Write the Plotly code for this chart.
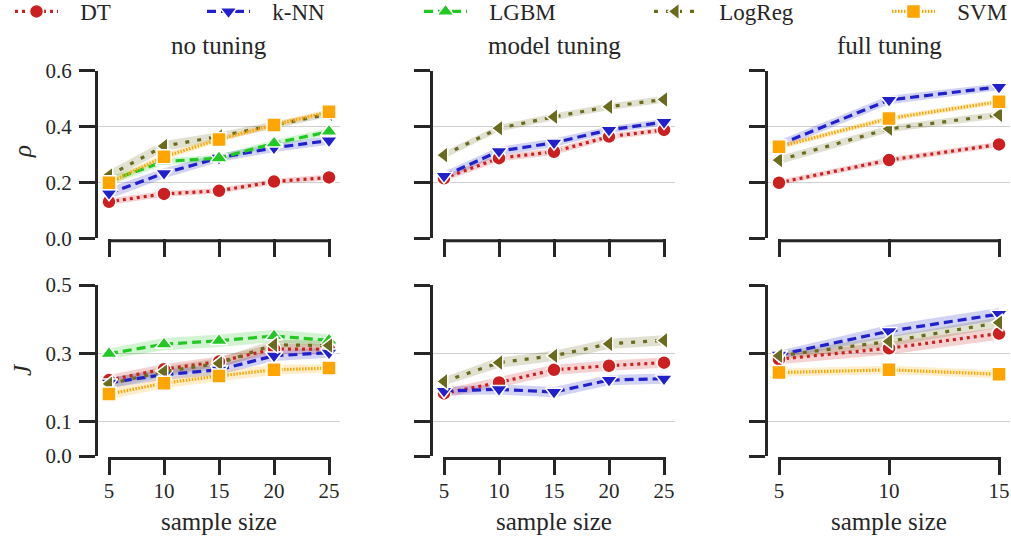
import plotly.graph_objects as go

# ---------------- data ----------------
MODELS = ["DT", "k-NN", "LGBM", "LogReg", "SVM"]
X_SHORT = [5, 10, 15, 20, 25]
X_FULL = [5, 10, 15]
PANEL_TITLES = ["no tuning", "model tuning", "full tuning"]
X_TICKS_SHORT = [5, 10, 15, 20, 25]
X_TICKS_FULL = [5, 10, 15]
RHO_TICKS = [0.0, 0.2, 0.4, 0.6]
J_TICKS = [0.0, 0.1, 0.3, 0.5]

# rho, no tuning
rho_none = {
    "DT": [0.131, 0.159, 0.170, 0.203, 0.218],
    "k-NN": [0.161, 0.233, 0.288, 0.324, 0.350],
    "LGBM": [0.205, 0.275, 0.287, 0.340, 0.382],
    "LogReg": [0.225, 0.330, 0.365, 0.405, 0.445],
    "SVM": [0.199, 0.292, 0.354, 0.406, 0.453],
}
rho_none_err = {
    "DT": [0.012, 0.010, 0.010, 0.010, 0.010],
    "k-NN": [0.020, 0.018, 0.015, 0.015, 0.015],
    "LGBM": [0.015, 0.012, 0.012, 0.012, 0.012],
    "LogReg": [0.018, 0.018, 0.015, 0.012, 0.010],
    "SVM": [0.012, 0.012, 0.010, 0.010, 0.010],
}
# rho, model tuning
rho_model = {
    "DT": [0.215, 0.287, 0.310, 0.364, 0.388],
    "k-NN": [0.223, 0.312, 0.342, 0.388, 0.416],
    "LogReg": [0.298, 0.394, 0.435, 0.471, 0.497],
}
rho_model_err = {
    "DT": [0.012, 0.012, 0.012, 0.010, 0.010],
    "k-NN": [0.015, 0.015, 0.015, 0.012, 0.012],
    "LogReg": [0.012, 0.012, 0.012, 0.012, 0.012],
}
# rho, full tuning
rho_full = {
    "DT": [0.199, 0.280, 0.336],
    "k-NN": [0.335, 0.495, 0.542],
    "LogReg": [0.280, 0.392, 0.442],
    "SVM": [0.328, 0.429, 0.489],
}
rho_full_err = {
    "DT": [0.010, 0.010, 0.010],
    "k-NN": [0.015, 0.015, 0.012],
    "LogReg": [0.015, 0.012, 0.012],
    "SVM": [0.010, 0.010, 0.010],
}
# J, no tuning
j_none = {
    "DT": [0.222, 0.254, 0.276, 0.313, 0.312],
    "k-NN": [0.214, 0.238, 0.252, 0.293, 0.302],
    "LGBM": [0.299, 0.327, 0.337, 0.351, 0.338],
    "LogReg": [0.211, 0.247, 0.271, 0.325, 0.323],
    "SVM": [0.181, 0.213, 0.234, 0.252, 0.257],
}
j_none_err = {
    "DT": [0.015, 0.015, 0.015, 0.015, 0.015],
    "k-NN": [0.015, 0.015, 0.015, 0.015, 0.015],
    "LGBM": [0.015, 0.018, 0.018, 0.018, 0.018],
    "LogReg": [0.015, 0.015, 0.015, 0.015, 0.015],
    "SVM": [0.015, 0.015, 0.015, 0.015, 0.012],
}
# J, model tuning
j_model = {
    "DT": [0.183, 0.215, 0.252, 0.264, 0.273],
    "k-NN": [0.190, 0.195, 0.187, 0.222, 0.226],
    "LogReg": [0.218, 0.273, 0.293, 0.328, 0.338],
}
j_model_err = {
    "DT": [0.012, 0.015, 0.015, 0.015, 0.015],
    "k-NN": [0.012, 0.015, 0.015, 0.015, 0.015],
    "LogReg": [0.012, 0.015, 0.015, 0.015, 0.015],
}
# J, full tuning
j_full = {
    "DT": [0.283, 0.315, 0.358],
    "k-NN": [0.296, 0.365, 0.415],
    "LogReg": [0.293, 0.335, 0.390],
    "SVM": [0.244, 0.252, 0.239],
}
j_full_err = {
    "DT": [0.015, 0.018, 0.018],
    "k-NN": [0.012, 0.018, 0.018],
    "LogReg": [0.012, 0.015, 0.015],
    "SVM": [0.012, 0.012, 0.012],
}

# ---------------- style ----------------
COLORS = {"DT": "#cc2020", "k-NN": "#2020cc", "LGBM": "#22c922",
          "LogReg": "#6b6b1e", "SVM": "#ffa500"}
DASHES = {"DT": "3px,4px", "k-NN": "9px,5px", "LGBM": "9px,5px",
          "LogReg": "4px,8px", "SVM": "1.5px,1.5px"}
SYMBOLS = {"DT": "circle", "k-NN": "triangle-down", "LGBM": "triangle-up",
           "LogReg": "triangle-left", "SVM": "square"}
MSIZE = {"DT": 14, "k-NN": 15, "LGBM": 15, "LogReg": 15, "SVM": 14}
LEGEND_IDS = {"DT": "legend", "k-NN": "legend2", "LGBM": "legend3",
              "LogReg": "legend4", "SVM": "legend5"}
LEGEND_X = {"DT": 10, "k-NN": 202, "LGBM": 419, "LogReg": 649, "SVM": 887}
NBSP = "\u00a0\u00a0\u00a0"

FONT = "Liberation Serif"
TXT = "#262626"
W, H = 1011, 539


def rgba(hexc, a):
    h = hexc.lstrip("#")
    return "rgba(%d,%d,%d,%s)" % (int(h[0:2], 16), int(h[2:4], 16), int(h[4:6], 16), a)


panels = [
    (rho_none, rho_none_err, X_SHORT), (rho_model, rho_model_err, X_SHORT), (rho_full, rho_full_err, X_FULL),
    (j_none, j_none_err, X_SHORT), (j_model, j_model_err, X_SHORT), (j_full, j_full_err, X_FULL),
]

# pixel layout of plot areas
col_px = [(98, 340), (433, 675), (768, 1010)]
row_px = [(70.7, 238.3), (285, 456)]
x_ranges = [[4, 26], [4, 26], [4.5, 15.5]]
y_ranges = [[0, 0.6], [0, 0.5]]

fig = go.Figure()
shown = set()
for i, (vals, errs, xs) in enumerate(panels):
    k = i + 1
    xa = "x" if k == 1 else "x%d" % k
    ya = "y" if k == 1 else "y%d" % k
    # bands first
    for m in MODELS:
        if m not in vals:
            continue
        v = vals[m]
        e = errs[m]
        up = [a + b for a, b in zip(v, e)]
        lo = [a - b for a, b in zip(v, e)]
        fig.add_trace(go.Scatter(
            x=list(xs) + list(xs)[::-1], y=up + lo[::-1], xaxis=xa, yaxis=ya,
            fill="toself", fillcolor=rgba(COLORS[m], 0.2), line=dict(width=0),
            mode="lines", showlegend=False, hoverinfo="skip"))
    for m in MODELS:
        if m not in vals:
            continue
        show = m not in shown
        shown.add(m)
        fig.add_trace(go.Scatter(
            x=xs, y=vals[m], xaxis=xa, yaxis=ya, mode="lines+markers", name=NBSP + m,
            line=dict(color=COLORS[m], width=3.2, dash=DASHES[m]),
            marker=dict(symbol=SYMBOLS[m], size=MSIZE[m], color=COLORS[m],
                        line=dict(color="white", width=1.5)),
            showlegend=show, legend=LEGEND_IDS[m]))

layout = dict(
    width=W, height=H, margin=dict(l=0, r=0, t=0, b=0, autoexpand=False),
    plot_bgcolor="white", paper_bgcolor="white",
    font=dict(family=FONT, color=TXT, size=21),
)
shapes = []
annotations = []
for r in range(2):
    for c in range(3):
        k = r * 3 + c + 1
        xs = "xaxis" if k == 1 else "xaxis%d" % k
        ys = "yaxis" if k == 1 else "yaxis%d" % k
        xid = "x" if k == 1 else "x%d" % k
        yid = "y" if k == 1 else "y%d" % k
        x0, x1 = col_px[c]
        y0, y1 = row_px[r]
        xr = x_ranges[c]
        ticks = X_TICKS_FULL if c == 2 else X_TICKS_SHORT
        layout[xs] = dict(
            domain=[x0 / W, x1 / W], range=xr, anchor=yid,
            tickvals=ticks, ticks="outside", ticklen=18, tickwidth=3, tickcolor=TXT,
            showticklabels=(r == 1), showgrid=False, zeroline=False, showline=False,
            tickfont=dict(size=21, family=FONT, color=TXT), ticklabelstandoff=-2,
            automargin=False)
        layout[ys] = dict(
            domain=[1 - y1 / H, 1 - y0 / H], range=y_ranges[r], anchor=xid,
            tickvals=RHO_TICKS if r == 0 else J_TICKS,
            ticktext=[("%.1f" % t) for t in (RHO_TICKS if r == 0 else J_TICKS)],
            ticks="outside", ticklen=16, tickwidth=3, tickcolor=TXT,
            showticklabels=(c == 0), showgrid=True, gridcolor="#d0d0d0", gridwidth=1,
            zeroline=False, showline=True, linecolor=TXT, linewidth=3,
            tickfont=dict(size=21, family=FONT, color=TXT), ticklabelstandoff=3,
            automargin=False)
        # trimmed, slightly offset x spine from first to last tick
        f0 = (ticks[0] - xr[0]) / (xr[1] - xr[0])
        f1 = (ticks[-1] - xr[0]) / (xr[1] - xr[0])
        off = -2.5 / (y1 - y0)
        shapes.append(dict(type="line", xref="%s domain" % xid, yref="%s domain" % yid,
                           x0=f0, x1=f1, y0=off, y1=off,
                           line=dict(color=TXT, width=3)))
        if r == 0:
            annotations.append(dict(text=PANEL_TITLES[c], xref="paper", yref="paper",
                                    x=(x0 + x1) / 2 / W, y=1 - 45 / H, showarrow=False,
                                    font=dict(size=25, family=FONT, color=TXT),
                                    xanchor="center", yanchor="middle"))
        else:
            annotations.append(dict(text="sample size", xref="paper", yref="paper",
                                    x=(x0 + x1) / 2 / W, y=1 - 521 / H, showarrow=False,
                                    font=dict(size=25, family=FONT, color=TXT),
                                    xanchor="center", yanchor="middle"))
annotations.append(dict(text="<i>ρ</i>", xref="paper", yref="paper", x=22 / W, y=1 - 152 / H,
                        showarrow=False, textangle=-90, font=dict(size=25, family=FONT, color=TXT),
                        xanchor="center", yanchor="middle"))
annotations.append(dict(text="<i>J</i>", xref="paper", yref="paper", x=22 / W, y=1 - 370 / H,
                        showarrow=False, textangle=-90, font=dict(size=25, family=FONT, color=TXT),
                        xanchor="center", yanchor="middle"))
layout["shapes"] = shapes
layout["annotations"] = annotations

for m in MODELS:
    layout[LEGEND_IDS[m]] = dict(
        x=LEGEND_X[m] / W, y=1 + 10 / H, xanchor="left", yanchor="top",
        xref="paper", yref="paper",
        orientation="h", bgcolor="rgba(0,0,0,0)", borderwidth=0,
        font=dict(size=23, family=FONT, color=TXT), itemwidth=43)

fig.update_layout(**layout)
fig.write_html("out.html", config={"displayModeBar": False},
               post_script="document.body.style.margin='0';document.body.style.padding='0';")
